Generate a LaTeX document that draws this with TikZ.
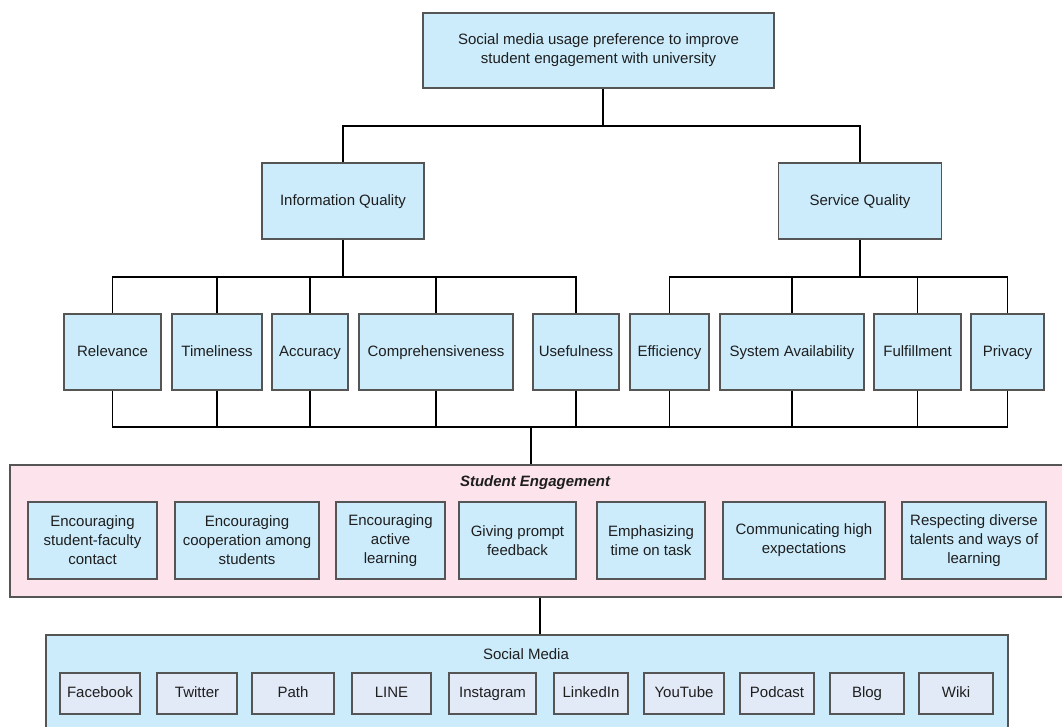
\documentclass[tikz,border=0pt]{standalone}
\usepackage{fontspec}
\setmainfont{Liberation Sans}
\definecolor{boxblue}{RGB}{204,236,252}
\definecolor{boxpink}{RGB}{253,228,236}
\definecolor{itemblue}{RGB}{226,234,247}
\definecolor{edge}{RGB}{85,85,85}
\definecolor{ink}{RGB}{30,30,30}
\begin{document}
\begin{tikzpicture}
  [x=1pt,y=-1pt,
   every node/.style={inner sep=0pt,align=center,text=ink,
     font=\fontsize{15}{19}\selectfont},
   box/.style={rectangle,draw=edge,line width=1.2pt,fill=boxblue,minimum height=#1},
   box/.default=76pt,
   oneline/.style={text height=11pt,text depth=3pt},
   panel/.style={rectangle,draw=edge,line width=1.2pt,fill=#1},
   media/.style={rectangle,draw=edge,line width=1.2pt,fill=itemblue,minimum height=41pt,oneline},
   link/.style={line width=1.8pt,black}]
  \useasboundingbox (0,0) rectangle (1062,726);
  \fill[white] (0,0) rectangle (1062,726);
  \clip (0,0) rectangle (1062,726);

  \node[box=75pt,minimum width=351pt] (goal) at (598.5,50.5)
    {Social media usage preference to improve\\student engagement with university};

  \node[box,oneline,minimum width=162pt] (info) at (343,201) {Information Quality};
  \node[box,oneline,minimum width=163pt] (serv) at (860,201) {Service Quality};

  \node[box,oneline,minimum width=97pt]  (rel)  at (112.5,352) {Relevance};
  \node[box,oneline,minimum width=90pt]  (time) at (217,352)   {Timeliness};
  \node[box,oneline,minimum width=76pt]  (acc)  at (310,352)   {Accuracy};
  \node[box,oneline,minimum width=154pt] (comp) at (436,352)   {Comprehensiveness};
  \node[box,oneline,minimum width=86pt]  (use)  at (576,352)   {Usefulness};
  \node[box,oneline,minimum width=79pt]  (eff)  at (669.5,352) {Efficiency};
  \node[box,oneline,minimum width=144pt] (sys)  at (792,352)   {System Availability};
  \node[box,oneline,minimum width=87pt]  (ful)  at (917.5,352) {Fulfillment};
  \node[box,oneline,minimum width=73pt]  (priv) at (1007.5,352) {Privacy};

  \node[panel=boxpink,minimum width=1060pt,minimum height=132pt] (eng) at (540,531) {};
  \node[oneline,font=\fontsize{15}{19}\selectfont\bfseries\itshape] (engtitle) at (535,482) {Student Engagement};
  \node[box=77pt,minimum width=129pt] (e1) at (92.5,540.5) {Encouraging\\student-faculty\\contact};
  \node[box=77pt,minimum width=144pt] (e2) at (247,540.5)  {Encouraging\\cooperation among\\students};
  \node[box=77pt,minimum width=109pt] (e3) at (390.5,540.5) {Encouraging\\active\\learning};
  \node[box=77pt,minimum width=117pt] (e4) at (517.5,540.5) {Giving prompt\\feedback};
  \node[box=77pt,minimum width=108pt] (e5) at (651,540.5)  {Emphasizing\\time on task};
  \node[box=77pt,minimum width=162pt] (e6) at (804,540.5)  {Communicating high\\expectations};
  \node[box=77pt,minimum width=144pt] (e7) at (974,540.5)  {Respecting diverse\\talents and ways of\\learning};

  \node[panel=boxblue,minimum width=962pt,minimum height=110pt] (soc) at (527,690) {};
  \node[oneline] (soctitle) at (526,655) {Social Media};
  \node[media,minimum width=80pt] (fb)    at (100,693.5)   {Facebook};
  \node[media,minimum width=80pt] (tw)    at (197,693.5)   {Twitter};
  \node[media,minimum width=82pt] (path)  at (293,693.5)   {Path};
  \node[media,minimum width=79pt] (line)  at (391.5,693.5) {LINE};
  \node[media,minimum width=87pt] (insta) at (492.5,693.5) {Instagram};
  \node[media,minimum width=74pt] (li)    at (591,693.5)   {LinkedIn};
  \node[media,minimum width=80pt] (yt)    at (684,693.5)   {YouTube};
  \node[media,minimum width=74pt] (pod)   at (777,693.5)   {Podcast};
  \node[media,minimum width=74pt] (blog)  at (867,693.5)   {Blog};
  \node[media,minimum width=74pt] (wiki)  at (956,693.5)   {Wiki};

  \coordinate (j0) at (603,126);
  \coordinate (j1) at (343,277);
  \coordinate (j2) at (860,277);
  \coordinate (j3) at (531,427);
  \coordinate (j4) at (540,600);

  \draw[link] (j0 |- goal.south) -- (j0);
  \draw[link] (info.north) |- (j0) -| (serv.north);

  \draw[link] (info.south) -- (j1);
  \foreach \n in {rel,time,acc,comp,use}
    \draw[link] (j1) -| (\n.north);
  \draw[link] (serv.south) -- (j2);
  \foreach \n in {eff,sys,ful,priv}
    \draw[link] (j2) -| (\n.north);

  \foreach \n in {rel,time,acc,comp,use,eff,sys,ful,priv}
    \draw[link] (\n.south) |- (j3);
  \draw[link] (j3) -- (j3 |- eng.north);

  \draw[link] (j4 |- eng.south) -- (j4 |- soc.north);
\end{tikzpicture}
\end{document}
